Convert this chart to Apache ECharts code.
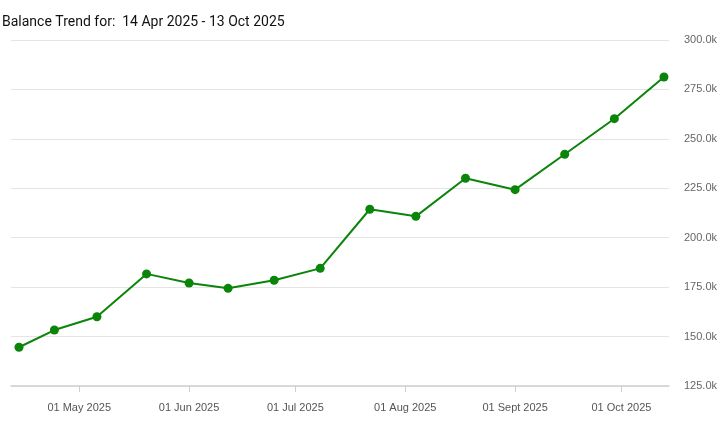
<!DOCTYPE html>
<html>
<head>
<meta charset="utf-8">
<script src="https://cdn.jsdelivr.net/npm/echarts@6/dist/echarts.min.js"></script>
<style>
html,body{margin:0;padding:0;background:#fff;}
#chart{width:720px;height:438px;}
</style>
</head>
<body>
<div id="chart"></div>
<script>
const titleText = 'Balance Trend for:  14 Apr 2025 - 13 Oct 2025';
const dates = ['2025-04-14','2025-04-24','2025-05-06','2025-05-20','2025-06-01','2025-06-12','2025-06-25','2025-07-08','2025-07-22','2025-08-04','2025-08-18','2025-09-01','2025-09-15','2025-09-29','2025-10-13'];
const balances = [144600,153300,160000,181700,177100,174400,178500,184500,214400,210800,230100,224300,242200,260200,281300];
const monthNames = ['Jan','Feb','Mar','Apr','May','Jun','Jul','Aug','Sept','Oct','Nov','Dec'];
const yMin = 125000, yMax = 300000, yStep = 25000;

const chart = echarts.init(document.getElementById('chart'), null, {renderer:'canvas'});
const seriesData = dates.map((d,i)=>[d+'T00:00:00', balances[i]]);
chart.setOption({
  animation:false,
  title:{text:titleText,left:2,top:15,padding:0,textStyle:{fontFamily:'Roboto',fontSize:14,fontWeight:'normal',color:'#111'}},
  grid:{left:11,right:49,top:40,bottom:52,containLabel:false},
  xAxis:{
    type:'time',
    min:new Date('2025-04-11T18:00:00').getTime(),
    max:new Date('2025-10-14T10:00:00').getTime(),
    minInterval:28*86400000,
    maxInterval:31*86400000,
    axisLine:{lineStyle:{color:'#cfcfcf',width:1.5}},
    axisTick:{show:true,length:6,lineStyle:{color:'#cfcfcf',width:1}},
    splitLine:{show:false},
    axisLabel:{
      color:'#555',fontFamily:'Liberation Sans',fontSize:11,margin:16,
      hideOverlap:false,
      formatter:function(v){const d=new Date(v);return ('0'+d.getDate()).slice(-2)+' '+monthNames[d.getMonth()]+' '+d.getFullYear();}
    }
  },
  yAxis:{
    type:'value',position:'right',min:yMin,max:yMax,interval:yStep,
    axisLine:{show:false},axisTick:{show:false},
    splitLine:{lineStyle:{color:'#e4e4e4',width:1}},
    axisLabel:{color:'#666',fontFamily:'Liberation Sans',fontSize:11,margin:15,
      formatter:function(v){return (v/1000).toFixed(1)+'k';}}
  },
  series:[{
    type:'line',data:seriesData,
    symbol:'circle',symbolSize:9,
    lineStyle:{color:'#0a850a',width:2},
    itemStyle:{color:'#0a850a'}
  }]
});
</script>
</body>
</html>
